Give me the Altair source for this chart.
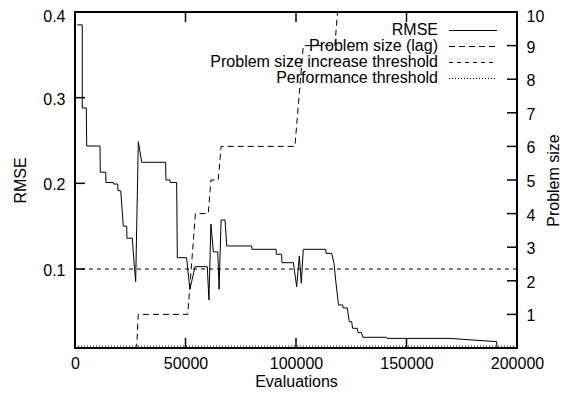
import altair as alt
import pandas as pd

# ---- data ----
rmse_evals = [1000, 3300, 3300, 5100, 5300, 11300, 11450, 13900, 14000, 17300, 17500, 19300,
              19450, 20700, 21850, 23400, 23500, 25900, 26700, 27450, 28650, 30200, 41000,
              41150, 43000, 43100, 46000, 46300, 50500, 52000, 54300, 59850, 60600, 61500,
              62600, 64600, 65200, 66100, 67900, 68650, 79950, 80100, 91000, 91100, 93500,
              93650, 98800, 100300, 101500, 102400, 103300, 113450, 113600, 116150, 117200,
              118100, 119150, 119300, 121150, 121300, 123200, 124100, 125200, 125600, 127700,
              128100, 129600, 130300, 141000, 141200, 169700, 190800, 190950]
rmse_vals = [0.385, 0.385, 0.288, 0.288, 0.2436, 0.2436, 0.213, 0.213, 0.201, 0.201, 0.1992, 0.1992,
             0.1914, 0.1914, 0.150, 0.150, 0.136, 0.136, 0.1085, 0.0852, 0.2486, 0.2246, 0.2246,
             0.204, 0.204, 0.201, 0.201, 0.1132, 0.1132, 0.0763, 0.1027, 0.1027, 0.0638, 0.1525,
             0.120, 0.120, 0.0763, 0.1572, 0.1572, 0.1269, 0.1269, 0.123, 0.123, 0.1172, 0.1172,
             0.1074, 0.1074, 0.0794, 0.1152, 0.0833, 0.123, 0.123, 0.1183, 0.1183, 0.1067,
             0.0833, 0.060, 0.058, 0.058, 0.0546, 0.0546, 0.0385, 0.0385, 0.0308, 0.0308,
             0.0257, 0.0257, 0.0203, 0.0203, 0.019, 0.019, 0.0152, 0.008]

size_evals = [0, 27900, 28600, 51000, 54500, 60300, 61500, 64800, 66100, 99500, 103300,
              117600, 118800, 121000]
size_vals = [0, 0, 1, 1, 4, 4, 5, 5, 6, 6, 9, 9, 10, 11]

increase_threshold = [0.1]
performance_threshold = [0.01]

x_tick_values = [0, 50000, 100000, 150000, 200000]
rmse_tick_values = [0.1, 0.2, 0.3, 0.4]
size_tick_values = [1, 2, 3, 4, 5, 6, 7, 8, 9, 10]

legend_labels = ["RMSE", "Problem size (lag)", "Problem size increase threshold", "Performance threshold"]
legend_dashes = [[1, 0], [6, 4], [4, 4], [1, 2]]

# ---- layout ----
W, H = 442, 336
FONT = "Liberation Sans"
FS = 16
TICK = 10

xscale = alt.Scale(domain=[0, 200000], nice=False, zero=False)
rscale = alt.Scale(domain=[0.0078, 0.4], nice=False, zero=False)
sscale = alt.Scale(domain=[0, 10], nice=False, zero=False)

rmse_df = pd.DataFrame({"evals": rmse_evals, "rmse": rmse_vals})
size_df = pd.DataFrame({"evals": size_evals, "size": size_vals})

x_axis = alt.Axis(values=x_tick_values, format="d", title="Evaluations", orient="bottom",
                  labelBaseline="alphabetic", labelPadding=20.5, labelAlign="center",
                  titleBaseline="alphabetic", titleY=38.5, titleX=W / 2, titleAlign="center")
r_axis = alt.Axis(values=rmse_tick_values, format=".1f", title="RMSE", orient="left",
                  labelPadding=10,
                  labelOffset={"condition": {"test": "datum.value > 0.39", "value": 4.5},
                               "value": 1.5},
                  titleAngle=270, titleBaseline="alphabetic",
                  titleX=-50, titleY=H / 2, titleAlign="center")
s_axis = alt.Axis(values=size_tick_values, format="d", title="Problem size", orient="right",
                  labelPadding=9,
                  labelOffset={"condition": {"test": "datum.value > 9.5", "value": 4.5},
                               "value": 1.5},
                  titleAngle=270, titleBaseline="alphabetic",
                  titleX=41, titleY=H / 2, titleAlign="center")


def X(field):
    return alt.X(field, scale=xscale, axis=x_axis)


rmse_line = alt.Chart(rmse_df).mark_line(color="black", strokeWidth=1, clip=True).encode(
    x=X("evals:Q"),
    y=alt.Y("rmse:Q", scale=rscale, axis=r_axis),
)
size_line = alt.Chart(size_df).mark_line(color="black", strokeWidth=1, strokeDash=[6, 4],
                                         clip=True).encode(
    x=X("evals:Q"),
    y=alt.Y("size:Q", scale=sscale, axis=s_axis),
)

thr1 = alt.Chart(pd.DataFrame({"v": increase_threshold})).mark_rule(
    color="black", strokeWidth=1, strokeDash=[4, 4]).encode(
    y=alt.Y("v:Q", scale=rscale, axis=None))
thr2 = alt.Chart(pd.DataFrame({"v": performance_threshold})).mark_rule(
    color="black", strokeWidth=1, strokeDash=[1, 2]).encode(
    y=alt.Y("v:Q", scale=rscale, axis=None))

xt = pd.DataFrame({"evals": x_tick_values[1:-1]})
xt_bottom = alt.Chart(xt).mark_rule(color="black", strokeWidth=1.5).encode(
    x=X("evals:Q"), y=alt.value(H), y2=alt.value(H - TICK))
xt_top = alt.Chart(xt).mark_rule(color="black", strokeWidth=1.5).encode(
    x=X("evals:Q"), y=alt.value(0), y2=alt.value(TICK))
rt = alt.Chart(pd.DataFrame({"v": rmse_tick_values[:-1]})).mark_rule(
    color="black", strokeWidth=1.5).encode(
    y=alt.Y("v:Q", scale=rscale, axis=None), x=alt.value(0), x2=alt.value(TICK))
st = alt.Chart(pd.DataFrame({"v": size_tick_values[:-1]})).mark_rule(
    color="black", strokeWidth=1.5).encode(
    y=alt.Y("v:Q", scale=sscale, axis=None), x=alt.value(W - TICK), x2=alt.value(W))

# legend (gnuplot style: text right-aligned, sample to the right)
legend_layers = []
for i, (lab, dash) in enumerate(zip(legend_labels, legend_dashes)):
    yb = 23 + 16 * i
    d = pd.DataFrame({"label": [lab]})
    legend_layers.append(
        alt.Chart(d).mark_text(align="right", baseline="alphabetic", font=FONT,
                               fontSize=FS, color="black").encode(
            text="label:N", x=alt.value(363), y=alt.value(yb)))
    legend_layers.append(
        alt.Chart(d).mark_rule(color="black", strokeWidth=1, strokeDash=dash).encode(
            x=alt.value(374), x2=alt.value(422), y=alt.value(yb - 4.5)))

chart = alt.layer(rmse_line, size_line, thr1, thr2, xt_bottom, xt_top, rt, st,
                  *legend_layers).resolve_scale(y="independent").properties(
    width=W, height=H,
    background="white",
    padding={"left": 67, "top": 4, "right": 45, "bottom": 42},
    autosize=alt.AutoSizeParams(type="none"),
).configure_view(stroke="black", strokeWidth=2).configure_axis(
    domain=False, ticks=False, tickSize=0, grid=False,
    labelFont=FONT, labelFontSize=FS, labelColor="black",
    titleFont=FONT, titleFontSize=FS, titleColor="black", titleFontWeight="normal",
)

chart.save("out.html", embed_options={"renderer": "svg", "actions": False})
